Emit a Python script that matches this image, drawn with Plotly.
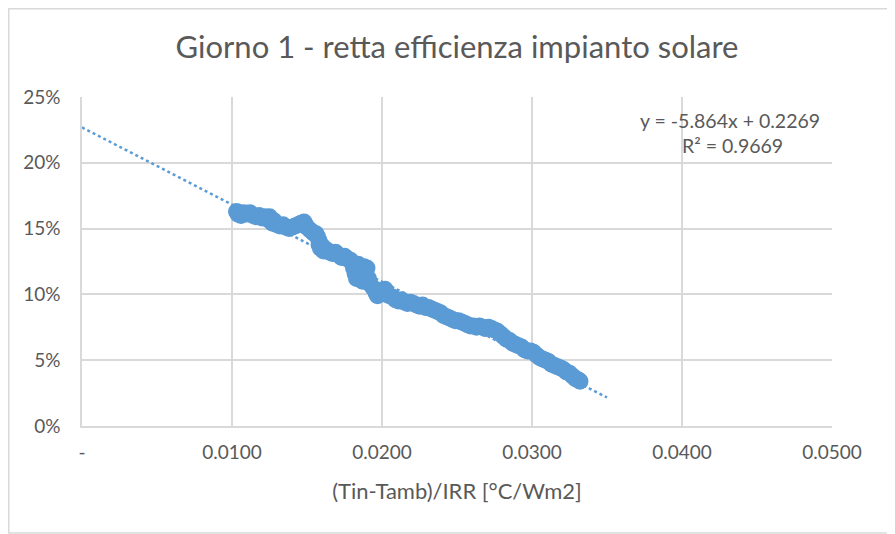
import plotly.graph_objects as go

# --- data ---
x_vals = [
    0.0103, 0.0104, 0.0105, 0.0106, 0.0108, 0.0110, 0.0112, 0.0114, 0.0116, 0.0118,
    0.0120, 0.0122, 0.0124, 0.0125, 0.0126, 0.0127, 0.0128, 0.0130, 0.0132, 0.0134,
    0.0136, 0.0138, 0.0140, 0.0142, 0.0144, 0.0146, 0.0148, 0.0149, 0.0150, 0.0152,
    0.0154, 0.0155, 0.0156, 0.0157, 0.0158, 0.0158, 0.0159, 0.0160, 0.0161, 0.0163,
    0.0165, 0.0167, 0.0169, 0.0171, 0.0173, 0.0175, 0.0177, 0.0179, 0.0180, 0.0181,
    0.0182, 0.0183, 0.0184, 0.0185, 0.0186, 0.0187, 0.0188, 0.0189, 0.0190, 0.0191,
    0.0192, 0.0194, 0.0196, 0.0197, 0.0198, 0.0200, 0.0202, 0.0203, 0.0205, 0.0207,
    0.0209, 0.0211, 0.0213, 0.0215, 0.0217, 0.0219, 0.0221, 0.0223, 0.0225, 0.0227,
    0.0229, 0.0231, 0.0233, 0.0235, 0.0237, 0.0239, 0.0241, 0.0243, 0.0245, 0.0247,
    0.0249, 0.0251, 0.0253, 0.0255, 0.0257, 0.0259, 0.0261, 0.0263, 0.0265, 0.0267,
    0.0269, 0.0271, 0.0273, 0.0275, 0.0277, 0.0279, 0.0281, 0.0283, 0.0285, 0.0287,
    0.0289, 0.0291, 0.0293, 0.0295, 0.0297, 0.0299, 0.0301, 0.0303, 0.0305, 0.0307,
    0.0309, 0.0311, 0.0313, 0.0315, 0.0317, 0.0319, 0.0321, 0.0323, 0.0325, 0.0327,
    0.0329, 0.0331, 0.0332,
]
eff_vals = [
    0.163, 0.161, 0.162, 0.160, 0.162, 0.161, 0.162, 0.160, 0.159, 0.160,
    0.158, 0.159, 0.157, 0.159, 0.156, 0.154, 0.156, 0.153, 0.152, 0.153,
    0.151, 0.150, 0.151, 0.152, 0.153, 0.154, 0.155, 0.153, 0.151, 0.149,
    0.147, 0.146, 0.146, 0.144, 0.141, 0.138, 0.135, 0.137, 0.133, 0.134,
    0.132, 0.131, 0.132, 0.130, 0.128, 0.129, 0.127, 0.126, 0.124, 0.120,
    0.116, 0.112, 0.123, 0.118, 0.114, 0.110, 0.121, 0.116, 0.120, 0.112,
    0.108, 0.105, 0.101, 0.099, 0.103, 0.101, 0.104, 0.100, 0.099, 0.098,
    0.096, 0.095, 0.096, 0.094, 0.093, 0.094, 0.093, 0.092, 0.091, 0.092,
    0.090, 0.090, 0.089, 0.088, 0.087, 0.086, 0.084, 0.083, 0.082, 0.081,
    0.080, 0.080, 0.079, 0.078, 0.077, 0.076, 0.076, 0.075, 0.076, 0.075,
    0.074, 0.075, 0.074, 0.073, 0.072, 0.070, 0.068, 0.066, 0.065, 0.063,
    0.062, 0.061, 0.060, 0.058, 0.057, 0.057, 0.056, 0.054, 0.052, 0.051,
    0.050, 0.049, 0.047, 0.046, 0.045, 0.044, 0.043, 0.041, 0.040, 0.038,
    0.036, 0.035, 0.034,
]

# linear trendline as reported in the chart
trend_slope = -5.864
trend_intercept = 0.2269
trend_r2 = 0.9669
trend_x = [0.0, 0.035]

x_tickvals = [0, 0.01, 0.02, 0.03, 0.04, 0.05]
x_ticktext = ["-", "0.0100", "0.0200", "0.0300", "0.0400", "0.0500"]
y_tickvals = [0, 0.05, 0.10, 0.15, 0.20, 0.25]
y_ticktext = ["0%", "5%", "10%", "15%", "20%", "25%"]

title_text = "Giorno 1 - retta efficienza impianto solare"
x_title = "(Tin-Tamb)/IRR [°C/Wm2]"

BLUE = "#5B9BD5"
TXT = "#595959"
GRID = "#D9D9D9"
FONT = "Lato, Open Sans, sans-serif"

# figure geometry (page has an 8px body margin)
W, H = 887, 526
L, R, T, B = 74, 63, 89, 108
PW, PH = W - L - R, H - T - B


def px(xf):
    return (xf - L) / PW


def py(yf):
    return (H - B - yf) / PH


trend_y = [trend_slope * v + trend_intercept for v in trend_x]

fig = go.Figure()
fig.add_trace(go.Scatter(
    x=trend_x, y=trend_y, mode="lines",
    line=dict(color=BLUE, width=2.5, dash="dot"),
    hoverinfo="skip", showlegend=False,
))
fig.add_trace(go.Scatter(
    x=x_vals, y=eff_vals, mode="markers",
    marker=dict(color=BLUE, size=15.5, line=dict(color=BLUE, width=1.5)),
    showlegend=False,
))

fig.update_layout(
    width=W, height=H,
    margin=dict(l=L, r=R, t=T, b=B),
    paper_bgcolor="white", plot_bgcolor="white",
    font=dict(family=FONT, color=TXT, size=19),
    title=dict(text=title_text, x=0.5, xref="paper", xanchor="center",
               y=1 - 39 / H, yref="container", yanchor="middle",
               font=dict(size=31, color=TXT, family=FONT)),
    xaxis=dict(range=[0, 0.05], tickvals=x_tickvals, ticktext=x_ticktext,
               showgrid=True, gridcolor=GRID, gridwidth=1.5,
               showline=True, linecolor=GRID, linewidth=1.5, mirror=False,
               zeroline=False, ticks="", ticklabelstandoff=8,
               tickfont=dict(size=19, color=TXT),
               title=dict(text=x_title, font=dict(size=22, color=TXT), standoff=22)),
    yaxis=dict(range=[0, 0.25], tickvals=y_tickvals, ticktext=y_ticktext,
               showgrid=True, gridcolor=GRID, gridwidth=1.5,
               showline=True, linecolor=GRID, linewidth=1.5,
               zeroline=False, ticks="", ticklabelstandoff=16,
               tickfont=dict(size=19, color=TXT)),
    annotations=[
        dict(text=f"y = {trend_slope}x + {trend_intercept}", xref="paper", yref="paper",
             x=px(814), y=py(112), xanchor="right", yanchor="middle",
             showarrow=False, font=dict(size=19.5, color=TXT)),
        dict(text=f"R² = {trend_r2}", xref="paper", yref="paper",
             x=px(672), y=py(137), xanchor="left", yanchor="middle",
             showarrow=False, font=dict(size=19.5, color=TXT)),
    ],
    shapes=[dict(type="rect", xref="paper", yref="paper",
                 x0=px(0.75), x1=px(885), y0=py(525), y1=py(0.75),
                 line=dict(color=GRID, width=1.5), fillcolor="rgba(0,0,0,0)", layer="below")],
)

fig.write_html("out.html")
